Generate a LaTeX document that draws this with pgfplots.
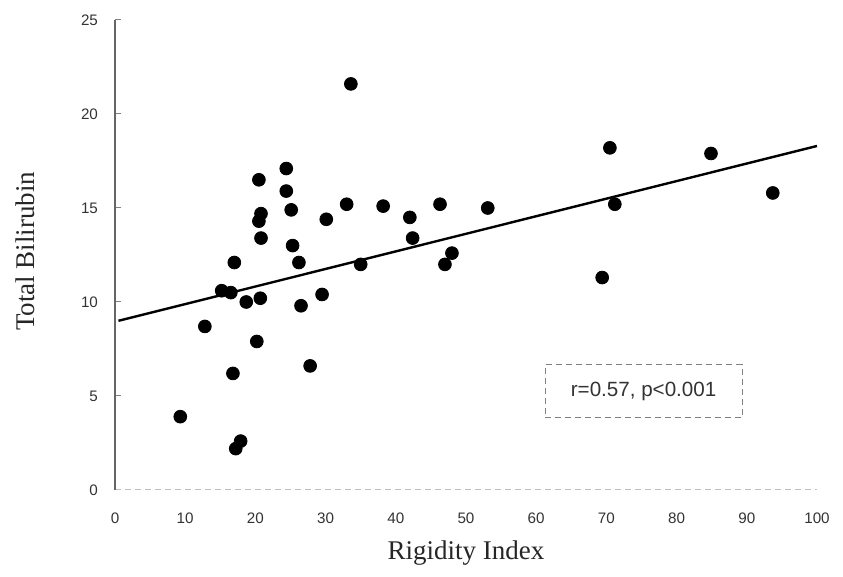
\documentclass[border=0pt]{standalone}
\usepackage{fontspec}
\setmainfont{Liberation Serif}
\newfontfamily\arial{Liberation Sans}
\usepackage{pgfplots}
\pgfplotsset{compat=1.18}

\begin{document}
\begin{tikzpicture}
\begin{axis}[
    at={(0,0)}, anchor=south west,
    scale only axis,
    width=351pt, height=235pt,
    xmin=0, xmax=100, ymin=0, ymax=25,
    axis x line=bottom, axis y line=left,
    axis line style={-},
    x axis line style={gray!50, densely dashed, line width=0.5pt},
    y axis line style={gray!80!black, line width=0.7pt},
    xtick={0,10,...,100}, ytick={0,5,...,25},
    x tick style={draw=none},
    y tick style={gray, line width=0.5pt},
    major tick length=3pt,
    tick align=inside,
    /pgf/number format/assume math mode=true,
    tick label style={font=\arial\fontsize{7.6}{9}\selectfont, text=black!80},
    xticklabel style={yshift=-8pt},
    yticklabel style={xshift=-5pt},
    xlabel={Rigidity Index},
    ylabel={Total Bilirubin},
    label style={font=\fontsize{13.5}{15}\selectfont, text=black!85},
    xlabel style={at={(axis description cs:0.5,-0.134)}, anchor=center},
    ylabel style={at={(axis description cs:-0.128,0.508)}, anchor=center},
    clip=false,
]
\addplot[only marks, mark=*, mark size=3.2pt, black] coordinates {
    (9.3,3.9) (12.8,8.7) (15.2,10.6) (16.5,10.5) (17.0,12.1)
    (16.8,6.2) (17.2,2.2) (17.9,2.6) (18.7,10.0) (20.2,7.9)
    (20.5,16.5) (20.8,14.7) (20.5,14.3) (20.8,13.4) (20.7,10.2)
    (24.4,17.1) (24.4,15.9) (25.1,14.9) (25.3,13.0) (26.2,12.1)
    (26.5,9.8) (27.8,6.6) (29.5,10.4) (30.1,14.4) (33.0,15.2)
    (33.6,21.6) (35.0,12.0) (38.2,15.1) (42.0,14.5) (42.4,13.4)
    (46.3,15.2) (47.0,12.0) (48.0,12.6) (53.1,15.0) (69.4,11.3)
    (70.5,18.2) (71.2,15.2) (84.9,17.9) (93.7,15.8)
};
\addplot[line width=1.2pt, black] coordinates {(0.5,9.0) (100,18.3)};
\node[draw=gray, densely dashed, line width=0.5pt, text=black!80,
      font=\arial\fontsize{10.3}{12}\selectfont,
      minimum width=98.5pt, minimum height=26.5pt, inner sep=0pt]
      at (axis cs:75.3,5.24) {r=0.57, p<0.001};
\end{axis}
\pgfresetboundingbox
\path[use as bounding box] (-57.5pt,-43.5pt) rectangle (364pt,245pt);
\end{tikzpicture}
\end{document}
